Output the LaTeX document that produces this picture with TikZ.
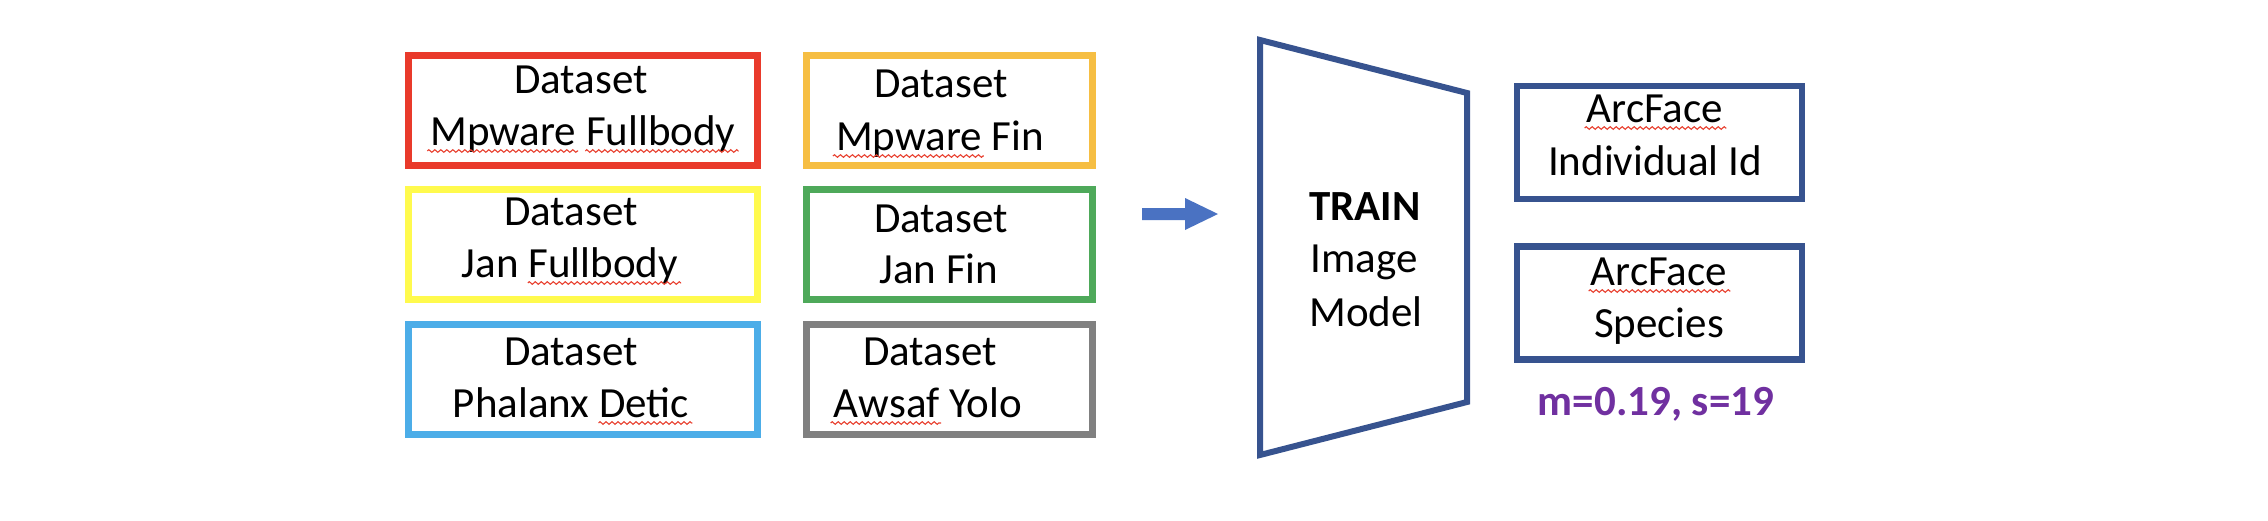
\documentclass[tikz,border=0pt]{standalone}
\usepackage{fontspec}
\setmainfont{Carlito}
\usetikzlibrary{decorations.pathmorphing}
\definecolor{cred}{HTML}{E93A2B}
\definecolor{corange}{HTML}{F6BE43}
\definecolor{cyellow}{HTML}{FFFA4D}
\definecolor{cgreen}{HTML}{4EA95A}
\definecolor{clblue}{HTML}{4CADE8}
\definecolor{cgray}{HTML}{808080}
\definecolor{cdblue}{HTML}{37538F}
\definecolor{carrow}{HTML}{4A72C2}
\definecolor{cpurple}{HTML}{7030A0}
\definecolor{splred}{HTML}{E8402F}
\newcommand\txtfont{\fontsize{43}{52}\selectfont}
\newlength\wMp \newlength\wFb \newlength\wDe \newlength\wAw
\AtBeginDocument{%
\settowidth\wMp{\txtfont Mpware}%
\settowidth\wFb{\txtfont Fullbody}%
\settowidth\wDe{\txtfont Detic}%
\settowidth\wAw{\txtfont Awsaf}}
\begin{document}
\begin{tikzpicture}[x=1pt,y=-1pt,
  dbox/.style={draw, line width=7pt, minimum width=349pt, minimum height=110pt, inner sep=0pt},
  rbox/.style={draw, line width=7pt, minimum width=286pt, minimum height=110pt, inner sep=0pt},
  obox/.style={draw=cdblue, line width=6.5pt, minimum width=285pt, minimum height=113pt, inner sep=0pt},
  lbl/.style={font=\txtfont, inner sep=0pt, anchor=base},
  lblb/.style={font=\txtfont\bfseries, inner sep=0pt, anchor=base},
  squig/.style={draw=splred, line width=1.1pt, decorate, decoration={zigzag, amplitude=1.3pt, segment length=6pt}}]
\useasboundingbox (0,0) rectangle (2268,520);
% dataset boxes
\node[dbox, draw=cred]    (d1) at (583,110)   {};
\node[dbox, draw=cyellow] (d2) at (583,244)   {};
\node[dbox, draw=clblue]  (d3) at (583,379.5) {};
\node[rbox, draw=corange] (d4) at (949.5,110)   {};
\node[rbox, draw=cgreen]  (d5) at (949.5,244)   {};
\node[rbox, draw=cgray]   (d6) at (949.5,379.5) {};
% dataset texts
\node[lbl] (t1a) at (581,93)  {Dataset};
\node[lbl] (t1b) at (583,145) {Mpware Fullbody};
\node[lbl] (t2a) at (571,225) {Dataset};
\node[lbl] (t2b) at (570,277) {Jan Fullbody};
\node[lbl] (t3a) at (571,365) {Dataset};
\node[lbl] (t3b) at (571,417) {Phalanx Detic};
\node[lbl] (t4a) at (941,97)  {Dataset};
\node[lbl] (t4b) at (940,150) {Mpware Fin};
\node[lbl] (t5a) at (941,232) {Dataset};
\node[lbl] (t5b) at (939,283) {Jan Fin};
\node[lbl] (t6a) at (930,365) {Dataset};
\node[lbl] (t6b) at (928,417) {Awsaf Yolo};
% spell-check squiggles
\draw[squig] ([xshift=-3pt,yshift=-6pt]t1b.base west) -- ([xshift=\wMp+2pt,yshift=-6pt]t1b.base west);
\draw[squig] ([xshift=-\wFb-1pt,yshift=-6pt]t1b.base east) -- ([xshift=3pt,yshift=-6pt]t1b.base east);
\draw[squig] ([xshift=-\wFb-1pt,yshift=-6pt]t2b.base east) -- ([xshift=3pt,yshift=-6pt]t2b.base east);
\draw[squig] ([xshift=-\wDe-1pt,yshift=-6pt]t3b.base east) -- ([xshift=3pt,yshift=-6pt]t3b.base east);
\draw[squig] ([xshift=-3pt,yshift=-6pt]t4b.base west) -- ([xshift=\wMp+2pt,yshift=-6pt]t4b.base west);
\draw[squig] ([xshift=-3pt,yshift=-6pt]t6b.base west) -- ([xshift=\wAw+2pt,yshift=-6pt]t6b.base west);
% arrow
\coordinate (a0) at (1142,214);
\coordinate (a1) at (1218,214);
\fill[carrow] ([yshift=6pt]a0) -- ++(43,0) -- ++(0,-10) -- (a1) -- ++(-33,16) -- ++(0,-10) -- ([yshift=-6pt]a0) -- cycle;
% trapezoid model
\draw[cdblue, line width=6pt, line join=miter] (1260,40) -- (1467,93) -- (1467,402) -- (1260,455) -- cycle;
\node[lblb] (m1) at (1365,220) {TRAIN};
\node[lbl]  (m2) at (1364,272) {Image};
\node[lbl]  (m3) at (1366,326) {Model};
% output boxes
\node[obox] (o1) at (1659.5,142.5) {};
\node[obox] (o2) at (1659.5,303) {};
\node[lbl] (o1a) at (1655,122) {ArcFace};
\node[lbl] (o1b) at (1655,175) {Individual Id};
\node[lbl] (o2a) at (1659,285) {ArcFace};
\node[lbl] (o2b) at (1659,337) {Species};
\draw[squig] ([xshift=-2pt,yshift=-6pt]o1a.base west) -- ([xshift=3pt,yshift=-6pt]o1a.base east);
\draw[squig] ([xshift=-2pt,yshift=-6pt]o2a.base west) -- ([xshift=3pt,yshift=-6pt]o2a.base east);
\node[lblb, text=cpurple] (ms) at (1656,415) {m=0.19, s=19};
\end{tikzpicture}
\end{document}
